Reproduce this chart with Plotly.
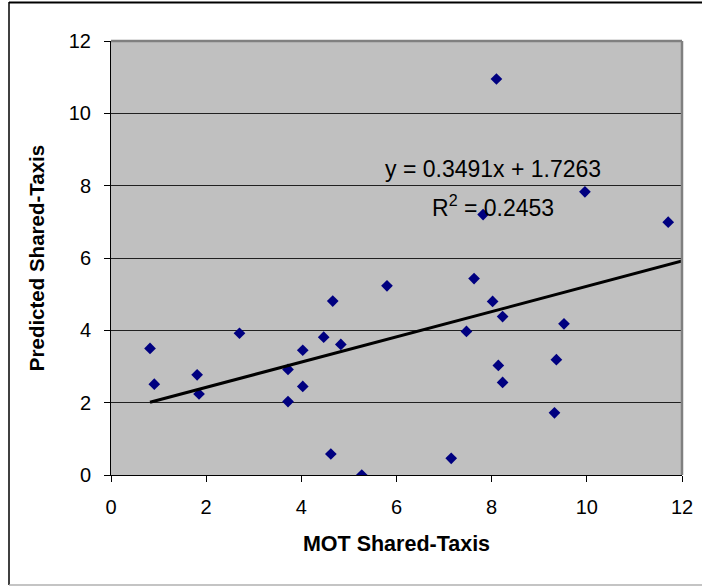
import numpy as np
import plotly.graph_objects as go

# Data
mot_shared_taxis = [0.82, 0.91, 1.81, 1.85, 2.70, 3.72, 3.72, 4.03, 4.03, 4.47,
                    4.66, 4.83, 4.62, 5.27, 5.80, 7.63, 8.02, 8.23, 7.47, 9.52,
                    9.36, 8.14, 8.23, 9.32, 7.15, 8.10, 9.96, 7.82, 11.71]
predicted_shared_taxis = [3.50, 2.51, 2.77, 2.24, 3.92, 2.92, 2.03, 3.45, 2.45, 3.81,
                          4.81, 3.61, 0.58, 0.00, 5.23, 5.43, 4.80, 4.38, 3.97, 4.18,
                          3.19, 3.03, 2.56, 1.72, 0.46, 10.95, 7.83, 7.20, 6.99]
trend_slope = 0.3491
trend_intercept = 1.7263
r_squared = 0.2453
tick_values = [0, 2, 4, 6, 8, 10, 12]

FONT = "Liberation Sans, Arial, sans-serif"

fig = go.Figure()

fig.add_trace(go.Scatter(
    x=mot_shared_taxis, y=predicted_shared_taxis, mode="markers",
    marker=dict(symbol="diamond", size=9, color="#000080", line=dict(width=0)),
    showlegend=False, hoverinfo="x+y"))

x_line = np.array([min(mot_shared_taxis), max(tick_values)])
y_line = trend_slope * x_line + trend_intercept
fig.add_trace(go.Scatter(
    x=x_line, y=y_line, mode="lines",
    line=dict(color="black", width=3), showlegend=False, hoverinfo="skip"))

fig.add_annotation(x=8.03, y=8.45, xref="x", yref="y",
                   text=f"y = {trend_slope}x + {trend_intercept}",
                   showarrow=False, font=dict(family=FONT, size=23, color="black"))
fig.add_annotation(x=8.03, y=7.45, xref="x", yref="y",
                   text=f"R<sup>2</sup> = {r_squared}",
                   showarrow=False, font=dict(family=FONT, size=23, color="black"))

L, R, T, B = 111, 20, 41, 111
W, H = 702, 586
pw, ph = W - L - R, H - T - B

def px_x(p):
    return (p - L) / pw

def px_y(p):
    return (H - B - p) / ph

# outer chart frame
fig.add_shape(type="line", xref="paper", yref="paper",
              x0=px_x(9), x1=px_x(9), y0=px_y(2), y1=px_y(585),
              line=dict(color="black", width=1.5))
fig.add_shape(type="line", xref="paper", yref="paper",
              x0=px_x(9), x1=px_x(705), y0=px_y(2.5), y1=px_y(2.5),
              line=dict(color="black", width=2))
fig.add_shape(type="line", xref="paper", yref="paper",
              x0=px_x(9), x1=px_x(705), y0=px_y(585), y1=px_y(585),
              line=dict(color="#b0b0b0", width=1.5))
# plot area top/right grey border
fig.add_shape(type="line", xref="paper", yref="paper",
              x0=0, x1=1, y0=1, y1=1, line=dict(color="#808080", width=2.5))
fig.add_shape(type="line", xref="paper", yref="paper",
              x0=1, x1=1, y0=0, y1=1, line=dict(color="#808080", width=2.5))

fig.update_layout(
    width=W, height=H,
    margin=dict(l=L, r=R, t=T, b=B, autoexpand=False),
    paper_bgcolor="white", plot_bgcolor="#C0C0C0",
    font=dict(family=FONT, size=20, color="black"),
)
fig.update_xaxes(
    range=[0, 12], tickvals=tick_values, showgrid=False, zeroline=False,
    showline=True, linecolor="black", linewidth=1,
    ticks="outside", ticklen=6, tickcolor="black", tickwidth=1,
    ticklabelstandoff=8, tickfont=dict(size=20),
    title=dict(text="<b>MOT Shared-Taxis</b>", font=dict(size=21.5), standoff=18),
    fixedrange=True)
fig.update_yaxes(
    range=[0, 12], tickvals=tick_values, showgrid=True, gridcolor="#202020", gridwidth=1,
    zeroline=False, showline=True, linecolor="black", linewidth=1,
    ticks="outside", ticklen=6, tickcolor="black", tickwidth=1,
    ticklabelstandoff=9, tickfont=dict(size=20),
    title=dict(text="<b>Predicted Shared-Taxis</b>", font=dict(size=20.5), standoff=18),
    fixedrange=True)

fig.write_html("out.html")
